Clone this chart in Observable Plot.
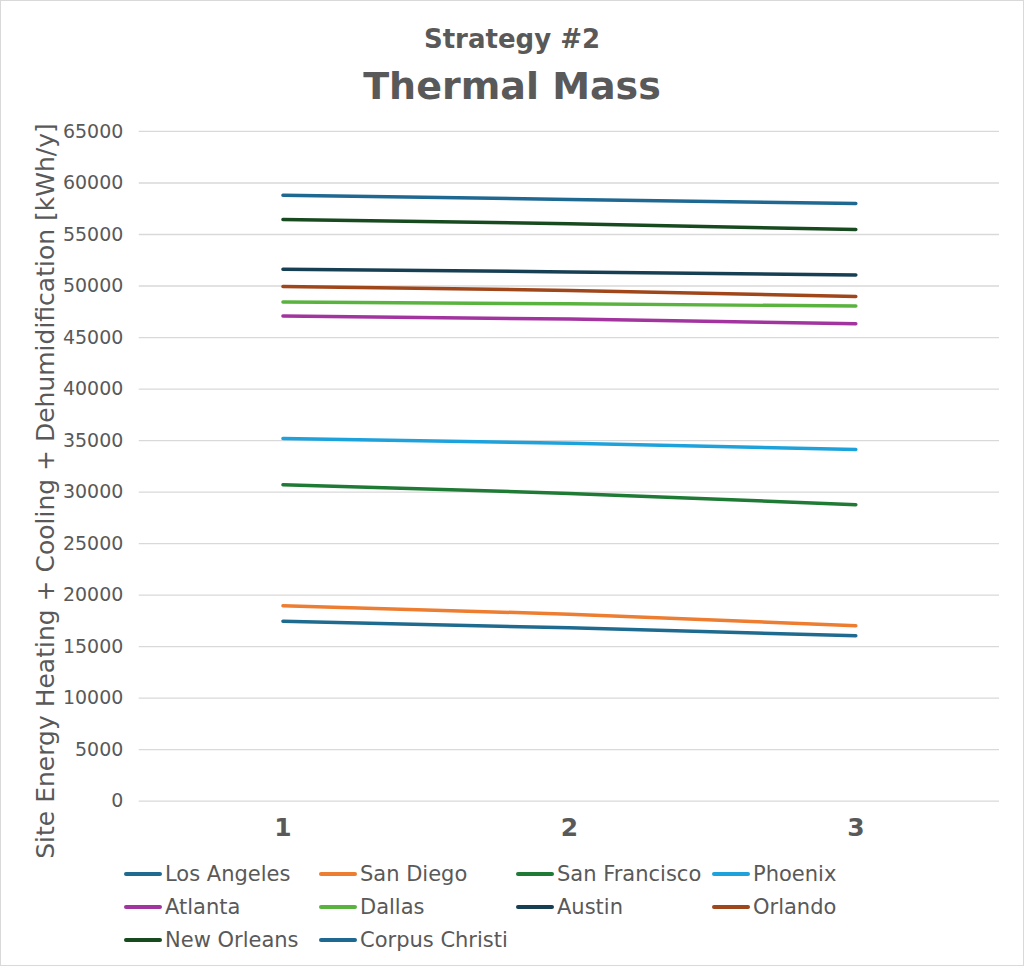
<!DOCTYPE html>
<html>
<head>
<meta charset="utf-8">
<script src="https://cdn.jsdelivr.net/npm/d3@7"></script>
<script src="https://cdn.jsdelivr.net/npm/@observablehq/plot@0.6"></script>
<style>
  html, body { margin: 0; padding: 0; background: #fff; }
  #frame { position: relative; width: 1024px; height: 966px; box-sizing: border-box; border: 1px solid #d9d9d9; overflow: hidden; font-family: "DejaVu Sans", "Open Sans", sans-serif; color: #595959; }
  #subtitle { position: absolute; left: 0; width: 100%; top: 38px; transform: translateY(-50%); text-align: center; font-weight: 700; font-size: 26px; line-height: 1; }
  #title { position: absolute; left: 0; width: 100%; top: 85px; transform: translateY(-50%); text-align: center; font-weight: 700; font-size: 38px; line-height: 1; }
  #chart { position: absolute; left: 0; top: 115px; }
  #ylabel { position: absolute; left: 44px; top: 490px; transform: translate(-50%, -50%) rotate(-90deg); white-space: nowrap; font-size: 25px; line-height: 1; }
  .leg { position: absolute; display: flex; align-items: center; font-size: 21px; white-space: nowrap; }
  .sw { width: 38px; height: 3.5px; border-radius: 2px; margin-right: 3px; }
</style>
</head>
<body>
<div id="frame">
  <div id="subtitle">Strategy #2</div>
  <div id="title">Thermal Mass</div>
  <div id="chart"></div>
  <div id="ylabel">Site Energy Heating + Cooling + Dehumidification [kWh/y]</div>
  <div id="legend"></div>
</div>
<script>
// ---- data ----
const levels = [1, 2, 3];
const cities = ["Los Angeles", "San Diego", "San Francisco", "Phoenix", "Atlanta", "Dallas", "Austin", "Orlando", "New Orleans", "Corpus Christi"];
const colors = ["#1f6b8f", "#ed7d31", "#1f7a35", "#1ea2dc", "#a234a0", "#5ab33e", "#173f53", "#a0461b", "#184a20", "#1f6891"];
const losAngeles    = [17470, 16820, 16050];
const sanDiego      = [18960, 18150, 17020];
const sanFrancisco  = [30710, 29870, 28770];
const phoenix       = [35200, 34750, 34130];
const atlanta       = [47080, 46790, 46340];
const dallas        = [48440, 48270, 48050];
const austin        = [51630, 51370, 51080];
const orlando       = [49960, 49570, 48990];
const newOrleans    = [56450, 56050, 55480];
const corpusChristi = [58800, 58400, 58000];
const yTicks = [0, 5000, 10000, 15000, 20000, 25000, 30000, 35000, 40000, 45000, 50000, 55000, 60000, 65000];

const seriesValues = [losAngeles, sanDiego, sanFrancisco, phoenix, atlanta, dallas, austin, orlando, newOrleans, corpusChristi];
const rows = [];
cities.forEach((c, i) => levels.forEach((l, j) => rows.push({city: c, level: l, value: seriesValues[i][j]})));

const svgH = 740;
const chart = Plot.plot({
  width: 1024,
  height: svgH,
  marginTop: 15,
  marginBottom: svgH - 686,
  marginLeft: 138,
  marginRight: 24,
  style: { fontFamily: "'DejaVu Sans', 'Open Sans', sans-serif", color: "#595959", background: "transparent" },
  x: { type: "point", domain: levels, padding: 0.5 },
  y: { domain: [0, 65000] },
  color: { domain: cities, range: colors },
  marks: [
    Plot.gridY(yTicks, { stroke: "#d9d9d9", strokeOpacity: 1, strokeWidth: 1.3 }),
    Plot.axisY(yTicks, { tickSize: 0, tickPadding: 16, tickFormat: d => String(d), fontSize: 19, label: null, fill: "#595959" }),
    Plot.axisX(levels, { tickSize: 0, tickPadding: 17, fontSize: 25, fontWeight: 700, label: null, fill: "#595959" }),
    Plot.line(rows, { x: "level", y: "value", z: "city", stroke: "city", strokeWidth: 3.5, strokeLinecap: "round", strokeLinejoin: "round" })
  ]
});
document.getElementById("chart").appendChild(chart);

// legend
const legCols = [123, 318, 515, 711];
const legRows = [873, 906, 939];
const legend = document.getElementById("legend");
cities.forEach((c, i) => {
  const d = document.createElement("div");
  d.className = "leg";
  d.style.left = legCols[i % 4] + "px";
  d.style.top = (legRows[Math.floor(i / 4)] - 12) + "px";
  d.style.height = "24px";
  const sw = document.createElement("div");
  sw.className = "sw";
  sw.style.background = colors[i];
  const t = document.createElement("span");
  t.textContent = c;
  d.appendChild(sw);
  d.appendChild(t);
  legend.appendChild(d);
});
</script>
</body>
</html>
